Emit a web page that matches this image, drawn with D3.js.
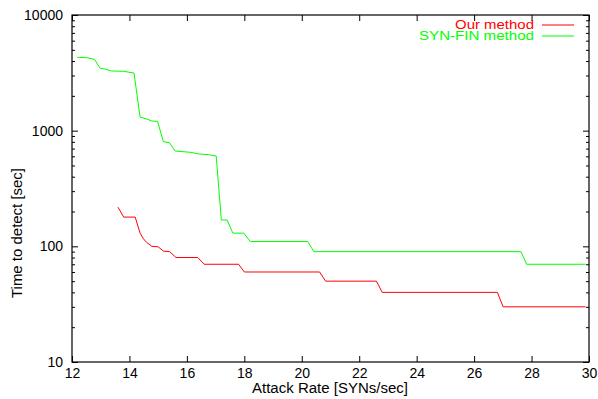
<!DOCTYPE html>
<html>
<head>
<meta charset="utf-8">
<script src="https://cdn.jsdelivr.net/npm/d3@7"></script>
<style>
  body { margin: 0; background: #fff; }
  text { font-family: "Liberation Sans", Arial, Helvetica, sans-serif; }
</style>
</head>
<body>
<div id="chart"></div>
<script>
// tick values
const xTicks = [12, 14, 16, 18, 20, 22, 24, 26, 28, 30]
const yTicks = [10, 100, 1000, 10000]

// Our method (red)
const ourRate = [13.6, 13.8, 14.2, 14.37, 14.49, 14.6, 14.78, 15.0, 15.18, 15.4, 15.62, 16.38, 16.6, 17.8, 18.0, 20.62, 20.83, 22.6, 22.8, 26.81, 27.01, 29.88]
const ourTime = [218, 179, 179, 130, 116, 108, 100, 99, 91, 90, 80, 80, 70, 70, 60, 60, 50, 50, 40, 40, 30, 30]

// SYN-FIN method (green)
const synRate = [12.18, 12.51, 12.78, 12.98, 13.15, 13.38, 13.79, 14.16, 14.37, 14.61, 14.78, 14.98, 15.18, 15.39, 15.59, 16.12, 16.41, 16.75, 17.02, 17.2, 17.4, 17.6, 17.98, 18.21, 20.21, 20.42, 27.63, 27.83, 29.88]
const synTime = [4310, 4280, 4140, 3460, 3410, 3280, 3260, 3150, 1310, 1260, 1210, 1205, 803, 787, 667, 650, 629, 620, 604, 169, 169, 130, 130, 110, 110, 90, 90, 70, 70]

const series = [
  { name: 'Our method', color: '#ff0000', x: ourRate, y: ourTime, textLen: 79 },
  { name: 'SYN-FIN method', color: '#00ff00', x: synRate, y: synTime, textLen: 115 }
]

const W = 598
const H = 399
const margin = { top: 15, right: 9, bottom: 37, left: 72 }
const width = W - margin.left - margin.right
const height = H - margin.top - margin.bottom

const svg = d3.select('#chart').append('svg')
  .attr('width', W)
  .attr('height', H)

const g = svg.append('g')
  .attr('transform', `translate(${margin.left},${margin.top})`)

const x = d3.scaleLinear().domain([12, 30]).range([0, width])
const y = d3.scaleLog().domain([10, 10000]).range([height, 0])

// minor ticks for the log axis
const minor = []
yTicks.slice(0, -1).forEach(d => {
  for (let k = 2; k < 10; k++) minor.push(d * k)
})

const fontSize = '14px'

// bottom axis with labels
g.append('g')
  .attr('transform', `translate(0,${height})`)
  .call(d3.axisBottom(x).tickValues(xTicks).tickSize(-6).tickPadding(6).tickFormat(d3.format('d')))
  .call(a => a.select('.domain').remove())
  .selectAll('text').style('font-size', fontSize).attr('fill', '#000')

// top mirror ticks
g.append('g')
  .call(d3.axisTop(x).tickValues(xTicks).tickSize(-6).tickFormat(''))
  .call(a => a.select('.domain').remove())

// left axis with labels
g.append('g')
  .call(d3.axisLeft(y).tickValues(yTicks).tickSize(-6).tickPadding(9).tickFormat(d3.format('d')))
  .call(a => a.select('.domain').remove())
  .selectAll('text').style('font-size', fontSize).attr('fill', '#000')

g.append('g')
  .call(d3.axisLeft(y).tickValues(minor).tickSize(-3).tickFormat(''))
  .call(a => a.select('.domain').remove())

// right mirror ticks
g.append('g')
  .attr('transform', `translate(${width},0)`)
  .call(d3.axisRight(y).tickValues(yTicks).tickSize(-6).tickFormat(''))
  .call(a => a.select('.domain').remove())

g.append('g')
  .attr('transform', `translate(${width},0)`)
  .call(d3.axisRight(y).tickValues(minor).tickSize(-3).tickFormat(''))
  .call(a => a.select('.domain').remove())

g.selectAll('.tick line').attr('stroke', '#000')

// plot border
g.append('rect')
  .attr('x', 0)
  .attr('y', 0)
  .attr('width', width)
  .attr('height', height)
  .attr('fill', 'none')
  .attr('stroke', '#000')
  .attr('stroke-width', 1.2)

// lines
const line = d3.line()
  .x(d => x(d[0]))
  .y(d => y(d[1]))

series.forEach(s => {
  g.append('path')
    .datum(s.x.map((v, i) => [v, s.y[i]]))
    .attr('fill', 'none')
    .attr('stroke', s.color)
    .attr('stroke-width', 1)
    .attr('d', line)
})

// legend (entries sit close together, as in the original)
const legend = svg.append('g')
series.forEach((s, i) => {
  const ly = 25 + i * 11
  legend.append('text')
    .attr('x', 534)
    .attr('y', ly + 4)
    .attr('text-anchor', 'end')
    .attr('fill', s.color)
    .attr('textLength', s.textLen)
    .attr('lengthAdjust', 'spacingAndGlyphs')
    .style('font-size', '12.5px')
    .text(s.name)
  legend.append('line')
    .attr('x1', 542)
    .attr('x2', 574)
    .attr('y1', ly)
    .attr('y2', ly)
    .attr('stroke', s.color)
    .attr('stroke-width', 1)
})

// axis titles
svg.append('text')
  .attr('x', 330)
  .attr('y', 393)
  .attr('text-anchor', 'middle')
  .attr('textLength', 156)
  .attr('lengthAdjust', 'spacingAndGlyphs')
  .style('font-size', fontSize)
  .text('Attack Rate [SYNs/sec]')

svg.append('text')
  .attr('transform', 'translate(22,233) rotate(-90)')
  .attr('text-anchor', 'middle')
  .attr('textLength', 130)
  .attr('lengthAdjust', 'spacingAndGlyphs')
  .style('font-size', fontSize)
  .text('Time to detect [sec]')
</script>
</body>
</html>
